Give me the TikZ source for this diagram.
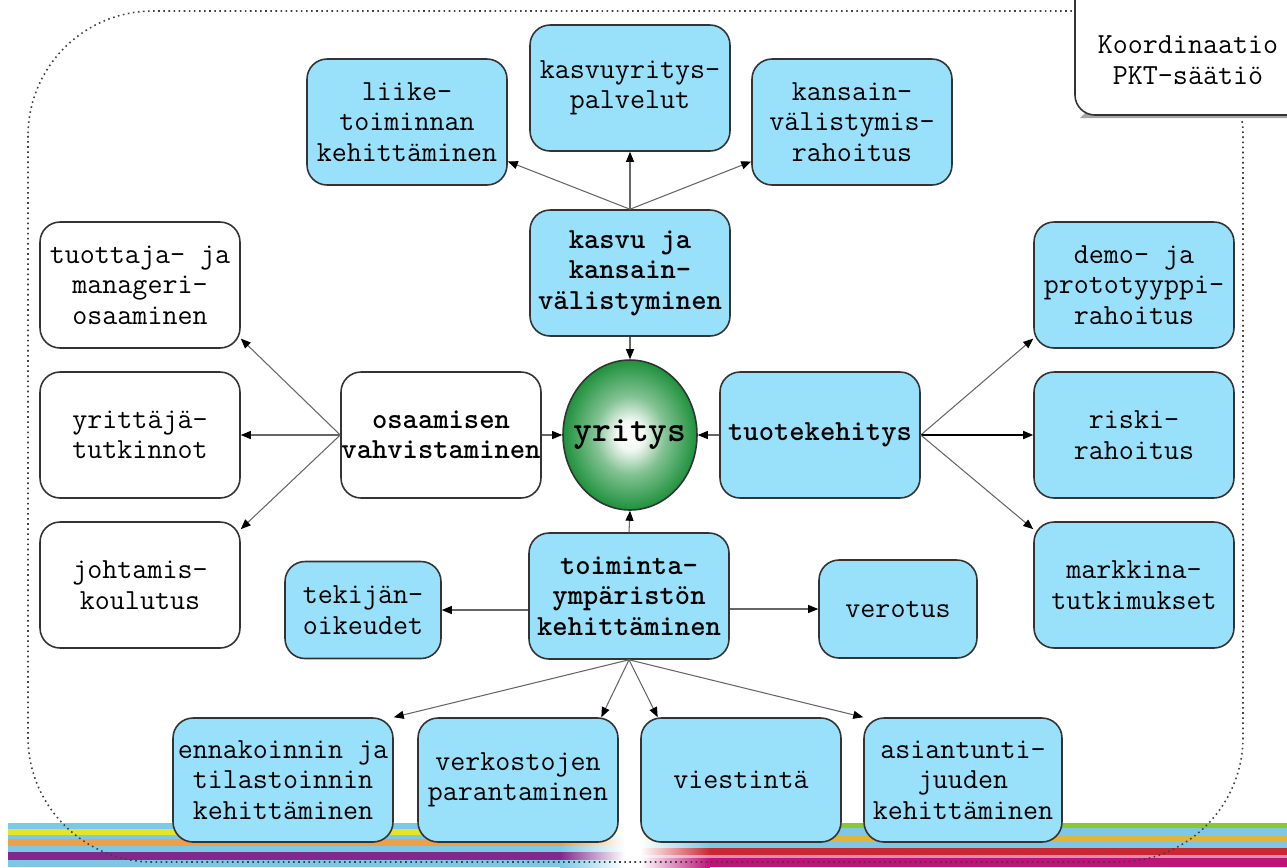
\documentclass[tikz,border=0pt]{standalone}
\usetikzlibrary{shapes.geometric,arrows.meta}
\definecolor{boxblue}{RGB}{153,224,250}
\definecolor{ballgreen}{RGB}{30,145,60}
\definecolor{stripeblue}{RGB}{125,200,230}
\definecolor{stripeyellow}{RGB}{228,228,40}
\definecolor{stripeorange}{RGB}{238,160,72}
\definecolor{stripepurple}{RGB}{130,40,140}
\definecolor{stripegreen}{RGB}{140,200,50}
\definecolor{stripegold}{RGB}{222,182,60}
\definecolor{stripered}{RGB}{200,40,50}
\definecolor{stripepink}{RGB}{222,140,182}
\definecolor{stripemagenta}{RGB}{190,20,120}
\pgfdeclareradialshading{ballshade}{\pgfpoint{0bp}{0bp}}{color(0bp)=(white); color(5bp)=(white!94!ballgreen); color(13bp)=(white!45!ballgreen); color(25bp)=(ballgreen); color(50bp)=(ballgreen)}
\begin{document}
\begin{tikzpicture}[x=0.02cm,y=-0.02cm,
    box/.style={draw=black!80,line width=0.9pt,rounded corners=0.4cm,align=center,
      font=\ttfamily\fontsize{16.6}{17.3}\selectfont,inner sep=0pt,
      minimum width=4cm,minimum height=2.52cm},
    bluebox/.style={box,fill=boxblue},
    whitebox/.style={box,fill=white},
    boldbox/.style={font=\ttfamily\bfseries\fontsize{16.6}{17.3}\selectfont},
    link/.style={draw=black!60,line width=0.6pt,-{Triangle[length=2mm,width=1.6mm,color=black]}}]
    \fill[white] (0,0) rectangle (1287,867);
    \useasboundingbox (0,0) rectangle (1287,867);
    % stripes at the bottom
    \foreach \ya/\yb/\c in {823/829/stripeblue,829/835/stripeyellow,835/839/stripeblue,839/846/stripeorange,846/852/stripeblue,852/860/stripepurple,860/867/stripeblue}{
        \fill[\c] (8,\ya) rectangle (560,\yb);
        \fill[left color=\c,right color=white] (560,\ya) rectangle (625,\yb);
    }
    \foreach \ya/\yb/\c in {823/828/stripegreen,828/835/stripeblue,835/842/stripegold,842/848/stripeblue,848/855/stripered,855/858/stripepink,858/867/stripemagenta}{
        \fill[left color=white,right color=\c] (640,\ya) rectangle (710,\yb);
        \fill[\c] (710,\ya) rectangle (1287,\yb);
    }
    % frame
    \draw[dotted,line width=0.9pt,black!75,rounded corners=2.5cm] (28,11) rectangle (1243,862);
    \fill[black!35] (1080,118) -- (1310,118) -- (1310,113) -- (1085,113) -- cycle;
    \filldraw[fill=white,draw=black!80,line width=0.9pt,rounded corners=0.4cm] (1075,-20) |- (1310,115) -- (1310,-20) -- cycle;
    \node[font=\ttfamily\fontsize{16.6}{17.3}\selectfont,align=center] (koord) at (1188,60) {Koordinaatio\\PKT-säätiö};

    \node[ellipse,draw=black!80,line width=0.9pt,shading=ballshade,
        minimum width=2.68cm,minimum height=3cm,inner sep=-0.3cm,
        font=\ttfamily\bfseries\fontsize{20.4}{22}\selectfont] (yritys) at (630,435) {yritys};

    \node[bluebox,boldbox] (kasvu) at (630,273) {kasvu ja\\kansain-\\välistyminen};
    \node[bluebox] (liike) at (407,122) {liike-\\toiminnan\\kehittäminen};
    \node[bluebox] (kasvuyr) at (630,88) {kasvuyritys-\\palvelut};
    \node[bluebox] (kansain) at (852,122) {kansain-\\välistymis-\\rahoitus};

    \node[whitebox,boldbox] (osaamisen) at (441,435) {osaamisen\\vahvistaminen};
    \node[whitebox] (tuottaja) at (140,285) {tuottaja- ja\\manageri-\\osaaminen};
    \node[whitebox] (yrittaja) at (140,435) {yrittäjä-\\tutkinnot};
    \node[whitebox] (johtamis) at (140,585) {johtamis-\\koulutus};

    \node[bluebox,boldbox] (tuote) at (820,435) {tuotekehitys};
    \node[bluebox] (demo) at (1134,285) {demo- ja\\prototyyppi-\\rahoitus};
    \node[bluebox] (riski) at (1134,435) {riski-\\rahoitus};
    \node[bluebox] (markkina) at (1134,585) {markkina-\\tutkimukset};

    \node[bluebox,boldbox] (toiminta) at (629,596) {toiminta-\\ympäristön\\kehittäminen};
    \node[bluebox,minimum width=3.12cm,minimum height=1.94cm] (tekijan) at (363,610) {tekijän-\\oikeudet};
    \node[bluebox,minimum width=3.16cm,minimum height=1.96cm] (verotus) at (898,609) {verotus};
    \node[bluebox,minimum width=4.4cm,minimum height=2.48cm] (ennak) at (283,780) {ennakoinnin ja\\tilastoinnin\\kehittäminen};
    \node[bluebox,minimum height=2.48cm] (verk) at (518,780) {verkostojen\\parantaminen};
    \node[bluebox,minimum height=2.48cm] (viest) at (741,780) {viestintä};
    \node[bluebox,minimum width=3.96cm,minimum height=2.48cm] (asiant) at (963,780) {asiantunti-\\juuden\\kehittäminen};

    % connectors
    \draw[link] (kasvu.north) -- (liike);
    \draw[link] (kasvu.north) -- (kasvuyr.south);
    \draw[link] (kasvu.north) -- (kansain);
    \draw[link] (kasvu.south) -- (yritys.north);
    \draw[link] (osaamisen.east) -- (yritys.west);
    \draw[link] (osaamisen.west) -- (tuottaja.-28);
    \draw[link] (osaamisen.west) -- (yrittaja.east);
    \draw[link] (osaamisen.west) -- (johtamis.29);
    \draw[link] (tuote.west) -- (yritys.east);
    \draw[link] (tuote.east) -- (demo.208);
    \draw[link,draw=black,line width=0.9pt] (tuote.east) -- (riski.west);
    \draw[link] (tuote.east) -- (markkina.151);
    \draw[link] (toiminta.north) -- (yritys.south);
    \draw[link] (toiminta.west |- tekijan.east) -- (tekijan.east);
    \draw[link] (toiminta.east |- verotus.west) -- (verotus.west);
    \draw[link] (toiminta.south) -- (ennak.north east);
    \draw[link] (toiminta.south) -- (verk.37);
    \draw[link] (toiminta.south) -- (viest.143);
    \draw[link] (toiminta.south) -- (asiant.north west);
\end{tikzpicture}
\end{document}
